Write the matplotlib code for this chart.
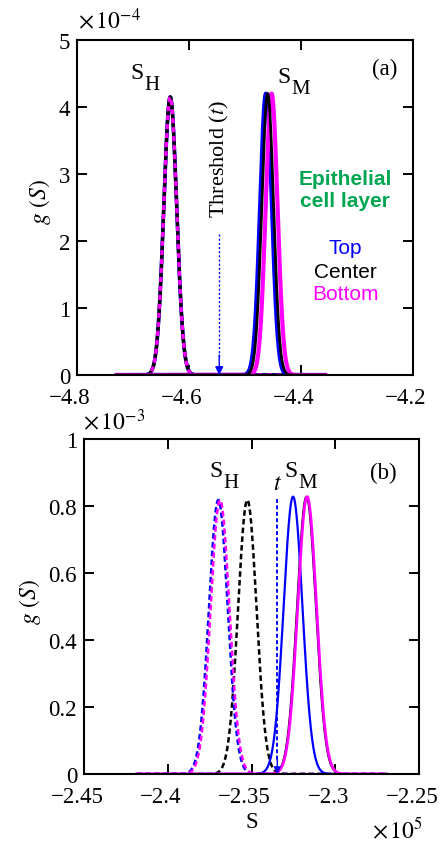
import numpy as np
import matplotlib
matplotlib.use("Agg")
import matplotlib.pyplot as plt
import matplotlib.transforms as mtransforms

plt.rcParams['font.family'] = ['Liberation Serif', 'DejaVu Serif']
plt.rcParams['mathtext.fontset'] = 'stix'

# ---------------- data (panel a: S in units of 1e-3, g in units of 1e-4) -------------
a_range = [-4.729, -4.357]
a_labels = ['Top', 'Center', 'Bottom']
a_SH_center = [-4.6335, -4.6335, -4.6335]
a_SH_sigma = [0.0115, 0.0115, 0.0115]
a_SH_peak = [4.15, 4.15, 4.15]
a_SM_center = [-4.4625, -4.4595, -4.4525]
a_SM_sigma = [0.0105, 0.0105, 0.0105]
a_SM_peak = [4.20, 4.20, 4.20]
a_threshold = -4.546
a_xticks = [-4.8, -4.6, -4.4, -4.2]
a_xticklabels = ['\u22124.8', '\u22124.6', '\u22124.4', '\u22124.2']
a_yticks = [0, 1, 2, 3, 4, 5]
a_yticklabels = ['0', '1', '2', '3', '4', '5']

# ---------------- data (panel b: S in units of 1e5, g in units of 1e-3) -------------
b_range = [-2.4186, -2.2693]
b_SH_center = [-2.3698, -2.3525, -2.3688]   # top, center, bottom
b_SH_sigma = [0.0056, 0.0055, 0.0056]
b_SH_peak = [0.818, 0.818, 0.818]
b_SM_center = [-2.3252, -2.3174, -2.3168]
b_SM_sigma = [0.0056, 0.0056, 0.0056]
b_SM_peak = [0.828, 0.828, 0.828]
b_threshold = -2.3346
b_xticks = [-2.45, -2.4, -2.35, -2.3, -2.25]
b_xticklabels = ['\u22122.45', '\u22122.4', '\u22122.35', '\u22122.3', '\u22122.25']
b_yticks = [0, 0.2, 0.4, 0.6, 0.8, 1]
b_yticklabels = ['0', '0.2', '0.4', '0.6', '0.8', '1']

colors = ['#0000FF', '#000000', '#FF00FF']


def gauss(x, c, s, p):
    return p * np.exp(-0.5 * ((x - c) / s) ** 2)


fig = plt.figure(figsize=(4.40, 8.45), dpi=100)
W, H = 440, 845
TICKFS = 16.5


def px_axes(l, t, r, b):
    return fig.add_axes([l / W, 1 - b / H, (r - l) / W, (b - t) / H])


def style(ax):
    for sp in ax.spines.values():
        sp.set_linewidth(1.5)
    ax.tick_params(direction='in', top=True, right=True, length=7, width=1.4,
                   labelsize=TICKFS)
    ax.tick_params(axis='x', pad=8.5)
    ax.tick_params(axis='y', pad=5)
    shift = mtransforms.ScaledTranslation(-7 / 100, 0, fig.dpi_scale_trans)
    for lab in ax.get_xticklabels():
        lab.set_transform(lab.get_transform() + shift)


def sub_label(ax, x, y, main, sub):
    ax.annotate(main, xy=(x, y), xycoords='data', ha='right', va='baseline', fontsize=17)
    ax.annotate(sub, xy=(x, y), xycoords='data', xytext=(0.5, -8), textcoords='offset points',
                ha='left', va='baseline', fontsize=15)


# ---------------- panel (a) ----------------
axA = px_axes(77, 41, 413, 376)
xa = np.linspace(a_range[0], a_range[1], 2000)
axA.plot(xa, gauss(xa, a_SH_center[0], a_SH_sigma[0], a_SH_peak[0]), color=colors[0], lw=2.6)
axA.plot(xa, gauss(xa, a_SH_center[1], a_SH_sigma[1], a_SH_peak[1]), color=colors[1], lw=2.4)
axA.plot(xa, gauss(xa, a_SH_center[2], a_SH_sigma[2], a_SH_peak[2]), color=colors[2], lw=2.4,
         dashes=(1.5, 1.2))
axA.plot(xa, gauss(xa, a_SM_center[0], a_SM_sigma[0], a_SM_peak[0]), color=colors[0], lw=3.0)
axA.plot(xa, gauss(xa, a_SM_center[2], a_SM_sigma[2], a_SM_peak[2]), color=colors[2], lw=3.0)
axA.plot(xa, gauss(xa, a_SM_center[1], a_SM_sigma[1], a_SM_peak[1]), color=colors[1], lw=2.0)

axA.set_xlim(a_xticks[0], a_xticks[-1])
axA.set_ylim(a_yticks[0], a_yticks[-1])
axA.set_xticks(a_xticks)
axA.set_yticks(a_yticks)
axA.set_xticklabels(a_xticklabels)
axA.set_yticklabels(a_yticklabels)
style(axA)

axA.plot([a_threshold, a_threshold], [2.1, 0.25], color='#0000FF', lw=1.0, ls=(0, (1.5, 1.5)))
axA.annotate('', xy=(a_threshold, 0.0), xytext=(a_threshold, 0.3),
             arrowprops=dict(arrowstyle='-|>', color='#0000FF', lw=1.0,
                             mutation_scale=12, shrinkA=0, shrinkB=0))
axA.text(a_threshold, 3.24, 'Threshold ($t$)', rotation=90, ha='center', va='center',
         fontsize=16)
sub_label(axA, -4.681, 4.43, 'S', 'H')
sub_label(axA, -4.418, 4.37, 'S', 'M')
axA.text(-4.25, 4.57, '(a)', ha='center', va='center', fontsize=16.5)

sans = ['Liberation Sans', 'DejaVu Sans']
axA.text(-4.3214, 2.93, 'Epithelial', ha='center', va='center', fontsize=15,
         fontweight='bold', color='#00A651', family=sans)
axA.text(-4.3214, 2.60, 'cell layer', ha='center', va='center', fontsize=15,
         fontweight='bold', color='#00A651', family=sans)
for lab, col, yy in zip(a_labels, colors, [1.90, 1.55, 1.21]):
    axA.text(-4.3214, yy, lab, ha='center', va='center', fontsize=15, color=col, family=sans)

fig.text(40 / W, 1 - 202 / H, r'$g\ (S)$', rotation=90, ha='center', va='center', fontsize=17)
fig.text(78 / W, 1 - 29 / H, r'$\times\,10^{-4}$', ha='left', va='baseline', fontsize=17)

# ---------------- panel (b) ----------------
axB = px_axes(84, 440, 419, 775)
xb = np.linspace(b_range[0], b_range[1], 2000)
axB.plot(xb, gauss(xb, b_SH_center[1], b_SH_sigma[1], b_SH_peak[1]), color=colors[1], lw=1.8,
         dashes=(2.2, 1.3))
axB.plot(xb, gauss(xb, b_SH_center[0], b_SH_sigma[0], b_SH_peak[0]), color=colors[0], lw=1.8,
         dashes=(2.2, 1.3))
axB.plot(xb, gauss(xb, b_SH_center[2], b_SH_sigma[2], b_SH_peak[2]), color=colors[2], lw=1.8,
         dashes=(2.2, 1.3))
axB.plot(xb, gauss(xb, b_SM_center[1], b_SM_sigma[1], b_SM_peak[1]), color=colors[1], lw=1.0)
axB.plot(xb, gauss(xb, b_SM_center[0], b_SM_sigma[0], b_SM_peak[0]), color=colors[0], lw=1.6)
axB.plot(xb, gauss(xb, b_SM_center[2], b_SM_sigma[2], b_SM_peak[2]), color=colors[2], lw=2.0)

axB.set_xlim(b_xticks[0], b_xticks[-1])
axB.set_ylim(b_yticks[0], b_yticks[-1])
axB.set_xticks(b_xticks)
axB.set_yticks(b_yticks)
axB.set_xticklabels(b_xticklabels)
axB.set_yticklabels(b_yticklabels)
style(axB)

axB.plot([b_threshold, b_threshold], [0.82, 0.04], color='#0000FF', lw=1.4, dashes=(2, 1.3))
axB.annotate('', xy=(b_threshold, 0.0), xytext=(b_threshold, 0.05),
             arrowprops=dict(arrowstyle='-|>', color='#0000FF', lw=1.0,
                             mutation_scale=10, shrinkA=0, shrinkB=0))
axB.text(b_threshold, 0.836, '$t$', ha='center', va='bottom', fontsize=17)
sub_label(axB, -2.3673, 0.89, 'S', 'H')
sub_label(axB, -2.3225, 0.89, 'S', 'M')
axB.text(-2.2715, 0.901, '(b)', ha='center', va='center', fontsize=16.5)

fig.text(30 / W, 1 - 602 / H, r'$g\ (S)$', rotation=90, ha='center', va='center', fontsize=17)
fig.text(252 / W, 1 - 823 / H, 'S', ha='center', va='center', fontsize=16.5)
fig.text(83 / W, 1 - 430 / H, r'$\times\,10^{-3}$', ha='left', va='baseline', fontsize=17)
fig.text(372 / W, 1 - 838 / H, r'$\times\,10^{5}$', ha='left', va='baseline', fontsize=17)

fig.savefig('out.png', dpi=100)
